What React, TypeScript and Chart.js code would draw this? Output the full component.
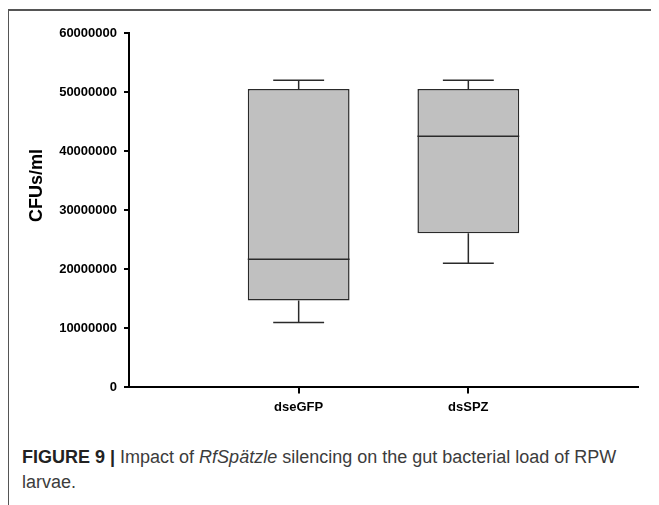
import React, { useEffect, useRef } from 'react';
import { Chart, registerables } from 'chart.js';

Chart.register(...registerables);

const categories = ['dseGFP', 'dsSPZ'];
const whiskerMin = [11000000, 21000000];
const quartile1 = [14700000, 26100000];
const medians = [21700000, 42500000];
const quartile3 = [50500000, 50500000];
const whiskerMax = [52000000, 52000000];
const yMin = 0;
const yMax = 60000000;
const yStep = 10000000;
const yTitle = 'CFUs/ml';

const boxPlugin = {
  id: 'boxWhiskers',
  afterDatasetsDraw(chart: any) {
    const meta = chart.getDatasetMeta(0);
    const ys = chart.scales.y;
    const ctx = chart.ctx;
    ctx.save();
    ctx.strokeStyle = '#2a2a2a';
    ctx.lineWidth = 1.5;
    categories.forEach((_c, i) => {
      const el = meta.data[i];
      if (!el) return;
      const x = el.x;
      const w = el.width;
      const cap = w * 0.5;
      const pMin = ys.getPixelForValue(whiskerMin[i]);
      const pQ1 = ys.getPixelForValue(quartile1[i]);
      const pMed = ys.getPixelForValue(medians[i]);
      const pQ3 = ys.getPixelForValue(quartile3[i]);
      const pMax = ys.getPixelForValue(whiskerMax[i]);
      ctx.beginPath();
      ctx.moveTo(x, pQ3);
      ctx.lineTo(x, pMax);
      ctx.moveTo(x - cap / 2, pMax);
      ctx.lineTo(x + cap / 2, pMax);
      ctx.moveTo(x, pQ1);
      ctx.lineTo(x, pMin);
      ctx.moveTo(x - cap / 2, pMin);
      ctx.lineTo(x + cap / 2, pMin);
      ctx.moveTo(x - w / 2, pMed);
      ctx.lineTo(x + w / 2, pMed);
      ctx.stroke();
    });
    ctx.restore();
  },
  afterDraw(chart: any) {
    const ctx = chart.ctx;
    const area = chart.chartArea;
    const xs = chart.scales.x;
    // x tick marks below the axis
    ctx.save();
    ctx.strokeStyle = '#000';
    ctx.lineWidth = 2;
    ctx.beginPath();
    xs.ticks.forEach((t: any) => {
      const px = Math.round(xs.getPixelForValue(t.value));
      ctx.moveTo(px, area.bottom);
      ctx.lineTo(px, area.bottom + 6);
    });
    ctx.stroke();
    ctx.restore();
    // y axis title
    ctx.save();
    ctx.translate(28, area.top + (area.bottom - area.top) * 0.43);
    ctx.rotate(-Math.PI / 2);
    ctx.font = 'bold 18px "Liberation Sans", Arial, sans-serif';
    ctx.fillStyle = '#000';
    ctx.textAlign = 'center';
    ctx.textBaseline = 'middle';
    ctx.fillText(yTitle, 0, 0);
    ctx.restore();
  },
};

export default function App() {
  const canvasRef = useRef<HTMLCanvasElement | null>(null);

  useEffect(() => {
    document.documentElement.style.overflow = 'hidden';
    document.body.style.overflow = 'hidden';
    const boxData = categories.map((_c, i) => ({ x: i + 1, y: [quartile1[i], quartile3[i]] }));
    const chart = new Chart(canvasRef.current as HTMLCanvasElement, {
      type: 'bar',
      data: {
        datasets: [
          {
            data: boxData,
            backgroundColor: '#c0c0c0',
            borderColor: '#2a2a2a',
            borderWidth: 1.5,
            borderSkipped: false,
            barPercentage: 0.6,
            categoryPercentage: 1,
          },
        ],
      },
      options: {
        animation: false,
        responsive: true,
        maintainAspectRatio: false,
        layout: { padding: { top: 22, right: 20, bottom: 4, left: 0 } },
        plugins: { legend: { display: false }, tooltip: { enabled: false } },
        scales: {
          x: {
            type: 'linear',
            min: 0,
            max: categories.length + 1,
            offset: false,
            afterBuildTicks: (scale: any) => {
              scale.ticks = categories.map((_c, i) => ({ value: i + 1 }));
            },
            grid: { display: false, drawOnChartArea: false, drawTicks: false, tickLength: 5 },
            border: { display: true, color: '#000', width: 2 },
            ticks: {
              autoSkip: false,
              maxRotation: 0,
              padding: 12,
              color: '#000',
              font: { family: '"Liberation Sans", Arial, sans-serif', size: 13, weight: 'bold' },
              callback: (v: any) => categories[Math.round(v) - 1] ?? '',
            },
          },
          y: {
            min: yMin,
            max: yMax,
            afterFit: (scale: any) => {
              scale.width = 120;
            },
            grid: { display: true, drawOnChartArea: false, drawTicks: true, tickLength: 5, color: '#000', lineWidth: 2 },
            border: { display: true, color: '#000', width: 2 },
            ticks: {
              stepSize: yStep,
              padding: 7,
              color: '#000',
              font: { family: '"Liberation Sans", Arial, sans-serif', size: 13, weight: 'bold' },
              callback: (v: any) => String(v),
            },
          },
        },
      },
      plugins: [boxPlugin],
    } as any);
    return () => chart.destroy();
  }, []);

  return (
    <div
      style={{
        marginTop: 1,
        marginLeft: -1,
        width: 660,
        borderTop: '2px solid #555',
        borderLeft: '2px solid #555',
        boxSizing: 'border-box',
        height: 510,
      }}
    >
      <div style={{ width: 649, height: 420, position: 'relative' }}>
        <canvas ref={canvasRef} />
      </div>
      <div
        style={{
          marginTop: 14,
          paddingLeft: 13,
          fontFamily: '"Liberation Sans Narrow", "Liberation Sans", Arial, sans-serif',
          fontSize: 18,
          lineHeight: '25px',
          color: '#3c3c3c',
        }}
      >
        <span style={{ fontWeight: 'bold', color: '#222' }}>FIGURE 9 |</span> Impact of <i>RfSpätzle</i> silencing on the gut bacterial load of RPW
        <br />
        larvae.
      </div>
    </div>
  );
}
